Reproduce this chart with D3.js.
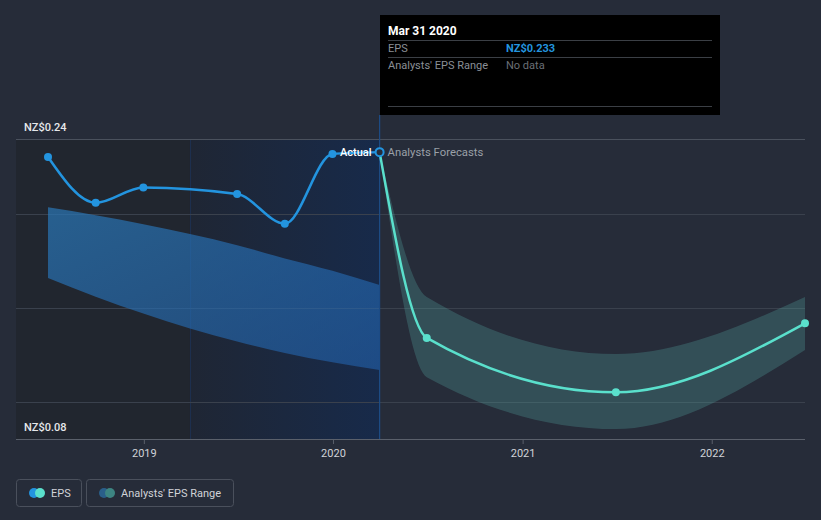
<!DOCTYPE html>
<html>
<head>
<meta charset="utf-8">
<script src="https://cdn.jsdelivr.net/npm/d3@7/dist/d3.min.js"></script>
<style>
  html, body { margin: 0; padding: 0; background: #262c39; }
  svg { display: block; font-family: Roboto, "Open Sans", sans-serif; }
</style>
</head>
<body>
<svg id="chart" width="821" height="520"></svg>
<script>
// ---- data ----
const epsDates = ["2018-06-30","2018-09-30","2018-12-31","2019-06-30","2019-09-30","2019-12-31","2020-03-31"];
const epsValues = [0.2304, 0.206, 0.2142, 0.2107, 0.1948, 0.232, 0.233];

const pastRangeDates = ["2018-06-30","2018-09-30","2018-12-31","2019-03-31","2019-06-30","2019-09-30","2019-12-31","2020-03-31"];
const pastRangeHigh = [0.2036, 0.1994, 0.1946, 0.1893, 0.1834, 0.1763, 0.1697, 0.1621];
const pastRangeLow  = [0.1659, 0.1559, 0.1469, 0.1390, 0.1320, 0.1259, 0.1209, 0.1168];

const fcDates = ["2020-03-31","2020-06-30","2021-06-30","2022-06-30"];
const fcValues = [0.233, 0.1339, 0.1049, 0.1417];
const fcHigh = [0.233, 0.1557, 0.1253, 0.1557];
const fcLow  = [0.233, 0.1130, 0.0853, 0.1275];

const yTickValues = [0.10, 0.15, 0.20];
const yLabelValues = [0.24, 0.08];
const xTickYears = ["2019","2020","2021","2022"];

const tooltipTitle = "Mar 31 2020";
const tooltipRows = [["EPS","NZ$0.233"],["Analysts' EPS Range","No data"]];
const legendItems = ["EPS","Analysts' EPS Range"];

// ---- scales ----
const parse = d3.timeParse("%Y-%m-%d");
const svg = d3.select("#chart");
const W = 821, H = 520;
const pLeft = 16, pRight = 805, pTop = 139, pBottom = 439;

const x = d3.scaleTime()
  .domain([parse("2018-06-30"), parse("2022-06-30")])
  .range([48, pRight]);
const y = d3.scaleLinear().domain([0.08, 0.24]).range([pBottom, pTop]);

const nowX = x(parse("2020-03-31"));
const hlStart = x(parse("2019-03-31"));

// background
svg.append("rect").attr("width", W).attr("height", H).attr("fill", "#262c39");

const defs = svg.append("defs");
const hg = defs.append("linearGradient").attr("id","hl").attr("x1","0").attr("x2","1").attr("y1","0").attr("y2","0");
hg.append("stop").attr("offset","0").attr("stop-color","#1f2634").attr("stop-opacity",1);
hg.append("stop").attr("offset","1").attr("stop-color","#172a4a").attr("stop-opacity",1);

const bg = defs.append("linearGradient").attr("id","pastband").attr("x1","0").attr("x2","1").attr("y1","0").attr("y2","1");
bg.append("stop").attr("offset","0").attr("stop-color","#2a78b8").attr("stop-opacity",0.7);
bg.append("stop").attr("offset","1").attr("stop-color","#2366b5").attr("stop-opacity",0.55);

// past region (darker)
svg.append("rect").attr("x", pLeft).attr("y", pTop).attr("width", nowX - pLeft).attr("height", pBottom - pTop)
  .attr("fill", "#21262f");
// highlighted period
svg.append("rect").attr("x", hlStart).attr("y", pTop).attr("width", nowX - hlStart).attr("height", pBottom - pTop)
  .attr("fill", "url(#hl)");
svg.append("line").attr("x1", hlStart + 0.5).attr("x2", hlStart + 0.5).attr("y1", pTop).attr("y2", pBottom)
  .attr("stroke", "#1e3050").attr("stroke-width", 1);

// gridlines
svg.append("g").selectAll("line").data(yTickValues).join("line")
  .attr("x1", pLeft).attr("x2", pRight)
  .attr("y1", d => Math.round(y(d)) + 0.5).attr("y2", d => Math.round(y(d)) + 0.5)
  .attr("stroke", "#3a414d").attr("stroke-width", 1);
svg.append("line").attr("x1", pLeft).attr("x2", pRight).attr("y1", pTop + 0.5).attr("y2", pTop + 0.5)
  .attr("stroke", "#4a515d").attr("stroke-width", 1);

// x axis
const xAxis = d3.axisBottom(x)
  .tickValues(xTickYears.map(s => parse(s + "-01-01")))
  .tickFormat(d3.timeFormat("%Y"))
  .tickSize(5).tickSizeOuter(0);
const gx = svg.append("g").attr("transform", `translate(0,${pBottom})`).call(xAxis);
gx.select(".domain").remove();
gx.selectAll(".tick line").attr("stroke", "#5a606b");
gx.selectAll(".tick text").attr("fill", "#d0d3d8").attr("font-size", 11).attr("dy", "0.95em")
  .attr("font-family", "Roboto, sans-serif");
svg.append("line").attr("x1", pLeft).attr("x2", pRight).attr("y1", pBottom + 0.5).attr("y2", pBottom + 0.5)
  .attr("stroke", "#5a606b").attr("stroke-width", 1);

// y labels
svg.append("g").selectAll("text").data(yLabelValues).join("text")
  .attr("x", 24).attr("y", d => y(d) - 8)
  .attr("fill", "#e6e8eb").attr("font-size", 11).attr("font-weight", 500)
  .text(d => "NZ$" + d.toFixed(2));

// past analyst range band
const pastBand = pastRangeDates.map((d, i) => ({ date: parse(d), hi: pastRangeHigh[i], lo: pastRangeLow[i] }));
svg.append("path").datum(pastBand)
  .attr("d", d3.area().x(d => x(d.date)).y0(d => y(d.lo)).y1(d => y(d.hi)).curve(d3.curveMonotoneX))
  .attr("fill", "url(#pastband)");

// forecast band
const fcBand = fcDates.map((d, i) => ({ date: parse(d), hi: fcHigh[i], lo: fcLow[i] }));
svg.append("path").datum(fcBand)
  .attr("d", d3.area().x(d => x(d.date)).y0(d => y(d.lo)).y1(d => y(d.hi)).curve(d3.curveMonotoneX))
  .attr("fill", "#52a3a0").attr("fill-opacity", 0.3);

// now line
svg.append("line").attr("x1", nowX).attr("x2", nowX).attr("y1", 115).attr("y2", pBottom)
  .attr("stroke", "#1d4c86").attr("stroke-width", 1.2);

// forecast line
const fcPts = fcDates.map((d, i) => ({ date: parse(d), v: fcValues[i] }));
svg.append("path").datum(fcPts)
  .attr("d", d3.line().x(d => x(d.date)).y(d => y(d.v)).curve(d3.curveMonotoneX))
  .attr("fill", "none").attr("stroke", "#5ae0cc").attr("stroke-width", 2.5);
svg.append("g").selectAll("circle").data(fcPts.slice(1)).join("circle")
  .attr("cx", d => x(d.date)).attr("cy", d => y(d.v)).attr("r", 4).attr("fill", "#5ae0cc");

// EPS line
const epsPts = epsDates.map((d, i) => ({ date: parse(d), v: epsValues[i] }));
svg.append("path").datum(epsPts)
  .attr("d", d3.line().x(d => x(d.date)).y(d => y(d.v)).curve(d3.curveMonotoneX))
  .attr("fill", "none").attr("stroke", "#2394df").attr("stroke-width", 2.5);
svg.append("g").selectAll("circle").data(epsPts.slice(0, -1)).join("circle")
  .attr("cx", d => x(d.date)).attr("cy", d => y(d.v)).attr("r", 4).attr("fill", "#2394df");
const last = epsPts[epsPts.length - 1];
svg.append("circle").attr("cx", x(last.date)).attr("cy", y(last.v)).attr("r", 4)
  .attr("fill", "#262c39").attr("stroke", "#2394df").attr("stroke-width", 2);

// labels Actual / Analysts Forecasts
svg.append("text").attr("x", nowX - 8).attr("y", y(last.v) + 4).attr("text-anchor", "end")
  .attr("fill", "#ffffff").attr("font-size", 11).attr("font-weight", 500).text("Actual");
svg.append("text").attr("x", nowX + 8).attr("y", y(last.v) + 4)
  .attr("fill", "#9aa0a8").attr("font-size", 11.3).text("Analysts Forecasts");

// tooltip
const tt = svg.append("g").attr("transform", "translate(380,15)");
tt.append("rect").attr("width", 340).attr("height", 100).attr("fill", "#000000");
tt.append("text").attr("x", 8).attr("y", 20).attr("fill", "#ffffff").attr("font-size", 12).attr("font-weight", 700).text(tooltipTitle);
[25, 42, 91].forEach(yy => tt.append("line").attr("x1", 8).attr("x2", 332).attr("y1", yy + 0.5).attr("y2", yy + 0.5)
  .attr("stroke", "#3b3f45"));
tooltipRows.forEach((r, i) => {
  tt.append("text").attr("x", 8).attr("y", 37 + i * 17).attr("fill", "#8a8f96").attr("font-size", 11).text(r[0]);
  tt.append("text").attr("x", 126).attr("y", 37 + i * 17)
    .attr("fill", i === 0 ? "#2394df" : "#6a6f76").attr("font-size", 11).attr("font-weight", i === 0 ? 700 : 400).text(r[1]);
});

// legend
const lg = svg.append("g");
const lgW = [65, 147];
let lx = 16;
legendItems.forEach((t, i) => {
  const g = lg.append("g").attr("transform", `translate(${lx},479)`);
  g.append("rect").attr("x", 0.5).attr("y", 0.5).attr("width", lgW[i]).attr("height", 27).attr("rx", 3)
    .attr("fill", "none").attr("stroke", "#4a505c");
  const c1 = i === 0 ? "#2394df" : "#2a5f8a";
  const c2 = i === 0 ? "#5ae0cc" : "#3d8582";
  g.append("circle").attr("cx", 18).attr("cy", 14).attr("r", 5).attr("fill", c1);
  g.append("circle").attr("cx", 24).attr("cy", 14).attr("r", 5).attr("fill", c2);
  g.append("text").attr("x", 35).attr("y", 18).attr("fill", "#d0d3d8").attr("font-size", 11).text(t);
  lx += lgW[i] + 5;
});
</script>
</body>
</html>
